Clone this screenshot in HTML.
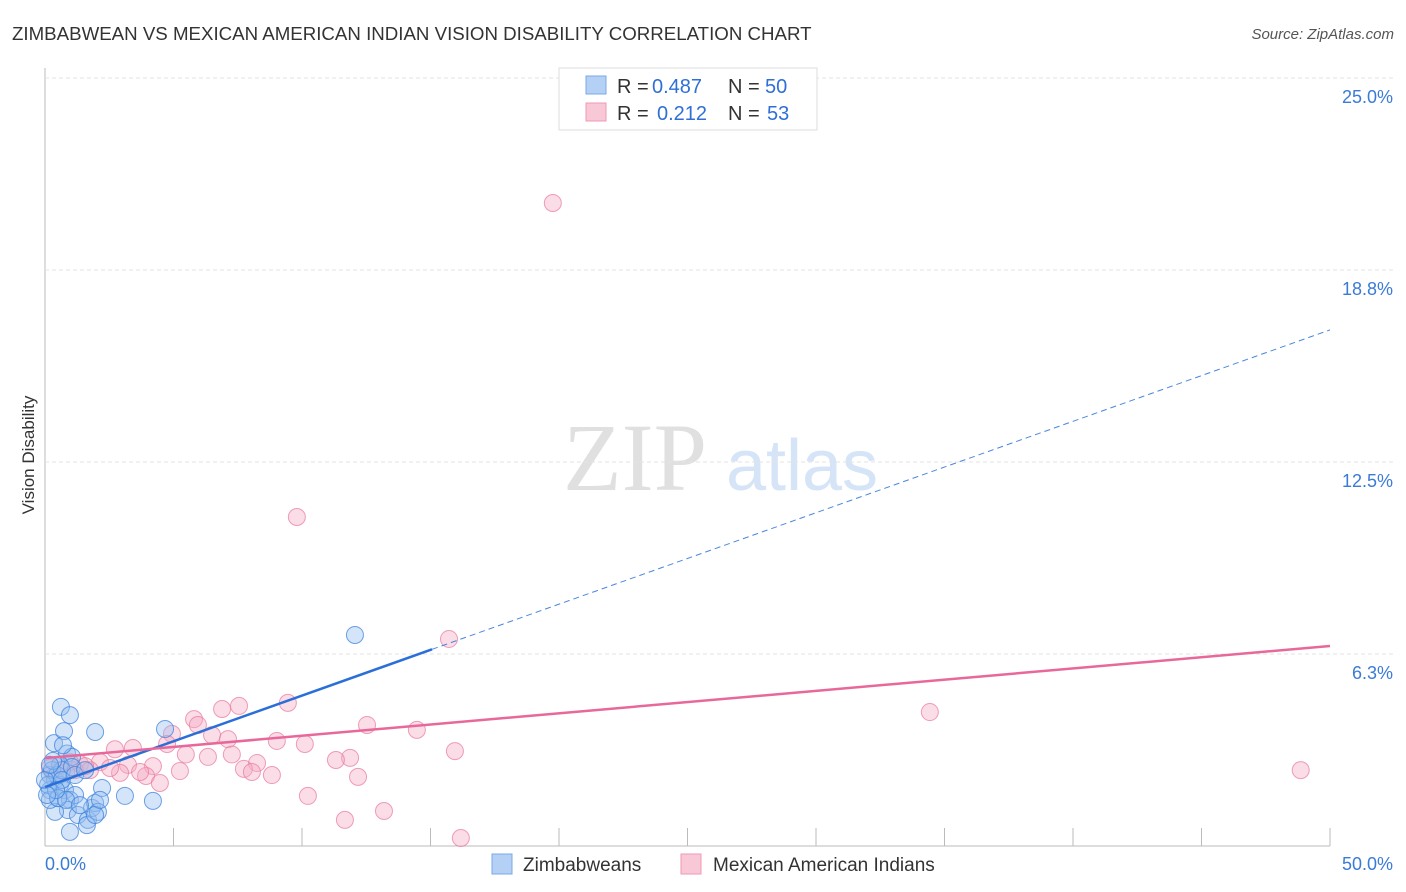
<!DOCTYPE html>
<html><head><meta charset="utf-8"><style>
body{margin:0;background:#fff;font-family:"Liberation Sans",sans-serif}
svg{display:block}
</style></head><body>
<svg id="c" width="1406" height="892">
<text x="12" y="40" font-size="18.7" fill="#333">ZIMBABWEAN VS MEXICAN AMERICAN INDIAN VISION DISABILITY CORRELATION CHART</text>
<text x="1394" y="39" font-size="15" fill="#555" font-style="italic" text-anchor="end">Source: ZipAtlas.com</text>
<text x="34" y="455" font-size="17" fill="#333" transform="rotate(-90 34 455)" text-anchor="middle">Vision Disability</text>
<g><text x="635" y="490" font-size="96" fill="#e0e0e0" font-family="Liberation Serif" text-anchor="middle">ZIP</text><text x="802" y="490" font-size="72" fill="#d5e4f7" text-anchor="middle">atlas</text></g>
<g id="grid"></g><g id="marks"></g>
<g>
<rect x="559" y="68" width="258" height="62" fill="#fff" stroke="#ddd"/>
<rect x="586" y="76" width="20" height="18" fill="#b5d0f5" stroke="#7aa8e8"/>
<rect x="586" y="103" width="20" height="18" fill="#f9c8d6" stroke="#ee9ab4"/>
<text x="617" y="93" font-size="20" fill="#333">R =</text><text x="652" y="93" font-size="20" fill="#2f6fd6">0.487</text>
<text x="728" y="93" font-size="20" fill="#333">N =</text><text x="765" y="93" font-size="20" fill="#2f6fd6">50</text>
<text x="617" y="120" font-size="20" fill="#333">R =</text><text x="657" y="120" font-size="20" fill="#2f6fd6">0.212</text>
<text x="728" y="120" font-size="20" fill="#333">N =</text><text x="767" y="120" font-size="20" fill="#2f6fd6">53</text>
</g>
<g>
<rect x="492" y="854" width="20" height="20" fill="#b5d0f5" stroke="#7aa8e8"/>
<text x="523" y="871" font-size="19" fill="#333">Zimbabweans</text>
<rect x="681" y="854" width="20" height="20" fill="#f9c8d6" stroke="#ee9ab4"/>
<text x="713" y="871" font-size="19" fill="#333">Mexican American Indians</text>
</g>
</svg>
<script>
const xTicks=[0,5,10,15,20,25,30,35,40,45,50];
const yTicks=[6.25,12.5,18.75,25];
const yTickLabels=["6.3%","12.5%","18.8%","25.0%"];
const blueX=[0.62,0.97,0.35,0.74,1.95,0.86,1.05,0.58,0.19,0.39,0.58,0.19,0.51,0.78,0.97,1.17,0.89,1.28,1.67,1.83,1.95,2.06,1.63,0.97,0.39,2.22,3.11,4.2,4.67,12.06,0.19,0.27,0.47,0.66,0.12,0.31,0.51,0.82,1.36,1.95,1.05,0.66,0,0.19,0.43,1.17,1.56,0.7,2.14,0.08];
const blueY=[4.53,4.26,3.35,3.74,3.71,3.01,2.9,2.64,2.31,2.15,1.99,1.82,1.56,1.82,1.5,1.66,1.17,1.01,0.85,1.24,1.4,1.11,0.68,0.46,1.11,1.89,1.63,1.47,3.81,6.87,1.5,2.47,2.31,2.47,1.99,2.77,1.56,1.5,1.33,1.01,2.57,2.15,2.15,2.64,1.82,2.31,2.47,3.28,1.5,1.66];
const pinkX=[19.76,9.8,15.72,34.43,48.86,7.55,9.45,6.89,5.8,5.95,4.94,6.5,7.12,9.02,10.11,12.53,14.47,15.95,2.72,3.42,4.75,7.27,6.34,5.48,11.87,11.32,8.25,4.2,3.23,2.14,1.36,0.58,0.19,1.17,2.92,3.93,5.25,7.74,8.05,8.83,12.18,4.47,10.23,13.19,11.67,16.18,1.75,2.53,0.39,0.97,1.56,3.7,0.82];
const pinkY=[20.93,10.71,6.74,4.36,2.47,4.56,4.66,4.46,4.13,3.94,3.65,3.61,3.48,3.42,3.32,3.94,3.78,3.09,3.15,3.19,3.32,2.98,2.9,2.98,2.87,2.8,2.7,2.6,2.64,2.73,2.67,2.64,2.54,2.47,2.38,2.28,2.44,2.51,2.41,2.31,2.25,2.05,1.63,1.14,0.85,0.26,2.47,2.54,2.31,2.73,2.6,2.41,2.41];
const blueTrend=[1.92,16.8], blueSolidEnd=15.06;
const pinkTrend=[2.86,6.51];
const X=v=>45+v/50*1285, Y=v=>846-v/6.25*192;
const NS="http://www.w3.org/2000/svg";
function mk(t,a,p){const e=document.createElementNS(NS,t);for(const k in a)e.setAttribute(k,a[k]);p.appendChild(e);return e;}
const g=document.getElementById('grid'), m=document.getElementById('marks');
mk('line',{x1:45,y1:68,x2:45,y2:846,stroke:'#bbb'},g);
mk('line',{x1:45,y1:846,x2:1330,y2:846,stroke:'#bbb'},g);
yTicks.forEach((t,i)=>{
 const l=mk('line',{x1:45,y1:Y(t),x2:1394,y2:Y(t),stroke:'#e3e3e3','stroke-dasharray':'4,3'},g);
 
 
 const tx=mk('text',{x:1393,y:Y(t)+25,'font-size':18,fill:'#3a7bd5','text-anchor':'end'},g);tx.textContent=yTickLabels[i];
 
 
});
xTicks.forEach(t=>{if(t>0){const l=mk('line',{x1:X(t),y1:828,x2:X(t),y2:846,stroke:'#bbb'},g);
 
 }});
let t0=mk('text',{x:45,y:870,'font-size':18,fill:'#3a7bd5'},g);t0.textContent='0.0%';


let t1=mk('text',{x:1393,y:870,'font-size':18,fill:'#3a7bd5','text-anchor':'end'},g);t1.textContent='50.0%';


pinkX.forEach((x,i)=>{const c=mk('circle',{cx:X(x),cy:Y(pinkY[i]),r:8.5,fill:'rgba(246,170,195,0.4)',stroke:'rgba(232,120,155,0.7)','stroke-width':1},m);
 
 });
blueX.forEach((x,i)=>{const c=mk('circle',{cx:X(x),cy:Y(blueY[i]),r:8.5,fill:'rgba(150,190,240,0.4)',stroke:'rgba(60,130,220,0.75)','stroke-width':1},m);
 
 });
const by=x=>blueTrend[0]+(blueTrend[1]-blueTrend[0])*x/50;
let bl=mk('line',{x1:X(0),y1:Y(by(0)),x2:X(blueSolidEnd),y2:Y(by(blueSolidEnd)),stroke:'#2a6fd8','stroke-width':2.5},m);


let bd=mk('line',{x1:X(blueSolidEnd),y1:Y(by(blueSolidEnd)),x2:X(50),y2:Y(by(50)),stroke:'#4a86dd','stroke-width':1,'stroke-dasharray':'6,4'},m);


let pl=mk('line',{x1:X(0),y1:Y(pinkTrend[0]),x2:X(50),y2:Y(pinkTrend[1]),stroke:'#e8689a','stroke-width':2.5},m);


</script>
</body></html>
